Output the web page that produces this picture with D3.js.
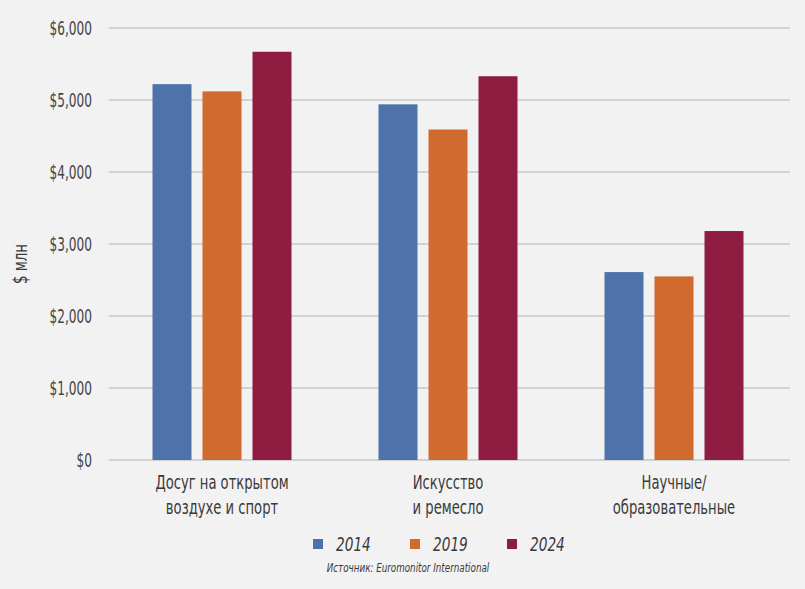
<!DOCTYPE html>
<html><head><meta charset="utf-8">
<script src="https://cdn.jsdelivr.net/npm/d3@7"></script>
<style>
body{margin:0;background:#f2f2f2;}
svg{display:block;}
text{font-family:"DejaVu Sans Condensed","Liberation Sans Narrow",sans-serif;}
</style></head><body>
<svg id="c" width="805" height="589"></svg>
<script>
const categories = [["Досуг на открытом","воздухе и спорт"],["Искусство","и ремесло"],["Научные/","образовательные"]];
const series = ["2014","2019","2024"];
const values2014 = [5220, 4940, 2610];
const values2019 = [5120, 4590, 2550];
const values2024 = [5670, 5330, 3180];
const yTicks = [0,1000,2000,3000,4000,5000,6000];
const colors = ["#4e73aa","#d06a2e","#8e1b40"];

const svg = d3.select("#c");
svg.append("rect").attr("width",805).attr("height",589).attr("fill","#f2f2f2");
const x0 = d3.scaleBand().domain(d3.range(categories.length)).range([109,787]);
const y = d3.scaleLinear().domain([0,6000]).range([460,28]);
const x1 = d3.scaleBand().domain(series).range([0,139]).paddingInner(0.22);
const data = [values2014, values2019, values2024];

function label(x, yy, sx, anchor){
  return svg.append("text").attr("transform",`translate(${x},${yy}) scale(${sx},1)`)
    .attr("text-anchor",anchor);
}

svg.append("g").selectAll("line").data(yTicks).join("line")
  .attr("x1",109).attr("x2",790).attr("y1",d=>y(d)).attr("y2",d=>y(d))
  .attr("stroke","#c6c6c6").attr("stroke-width",1.5);
yTicks.forEach(d=>{
  label(92, y(d)+7, 0.71, "end").attr("font-size",19).attr("fill","#444").text("$"+d3.format(",")(d));
});

const g = svg.append("g");
categories.forEach((c,i)=>{
  const bx = x0(i) + (x0.bandwidth()-139)/2;
  series.forEach((s,j)=>{
    g.append("rect").attr("x",bx+x1(s)).attr("width",x1.bandwidth())
      .attr("y",y(data[j][i])).attr("height",y(0)-y(data[j][i])).attr("fill",colors[j]);
  });
  c.forEach((line,k)=>{
    label(x0(i)+x0.bandwidth()/2, 489+k*25, 0.77, "middle").attr("font-size",19).attr("fill","#3a3a3a").text(line);
  });
});

svg.append("text").attr("transform","translate(27,264) rotate(-90) scale(0.78,1)").attr("text-anchor","middle")
  .attr("font-size",19).attr("fill","#3a3a3a").text("$ млн");

const lx = [313,410,507];
series.forEach((s,j)=>{
  svg.append("rect").attr("x",lx[j]).attr("y",539).attr("width",10).attr("height",10).attr("fill",colors[j]);
  label(lx[j]+23, 551, 0.8, "start").attr("font-size",19).attr("font-style","italic").attr("fill","#3a3a3a").text(s);
});
label(408, 572, 0.78, "middle").attr("font-size",12.5)
  .attr("font-style","italic").attr("fill","#3a3a3a").text("Источник: Euromonitor International");
</script></body></html>
